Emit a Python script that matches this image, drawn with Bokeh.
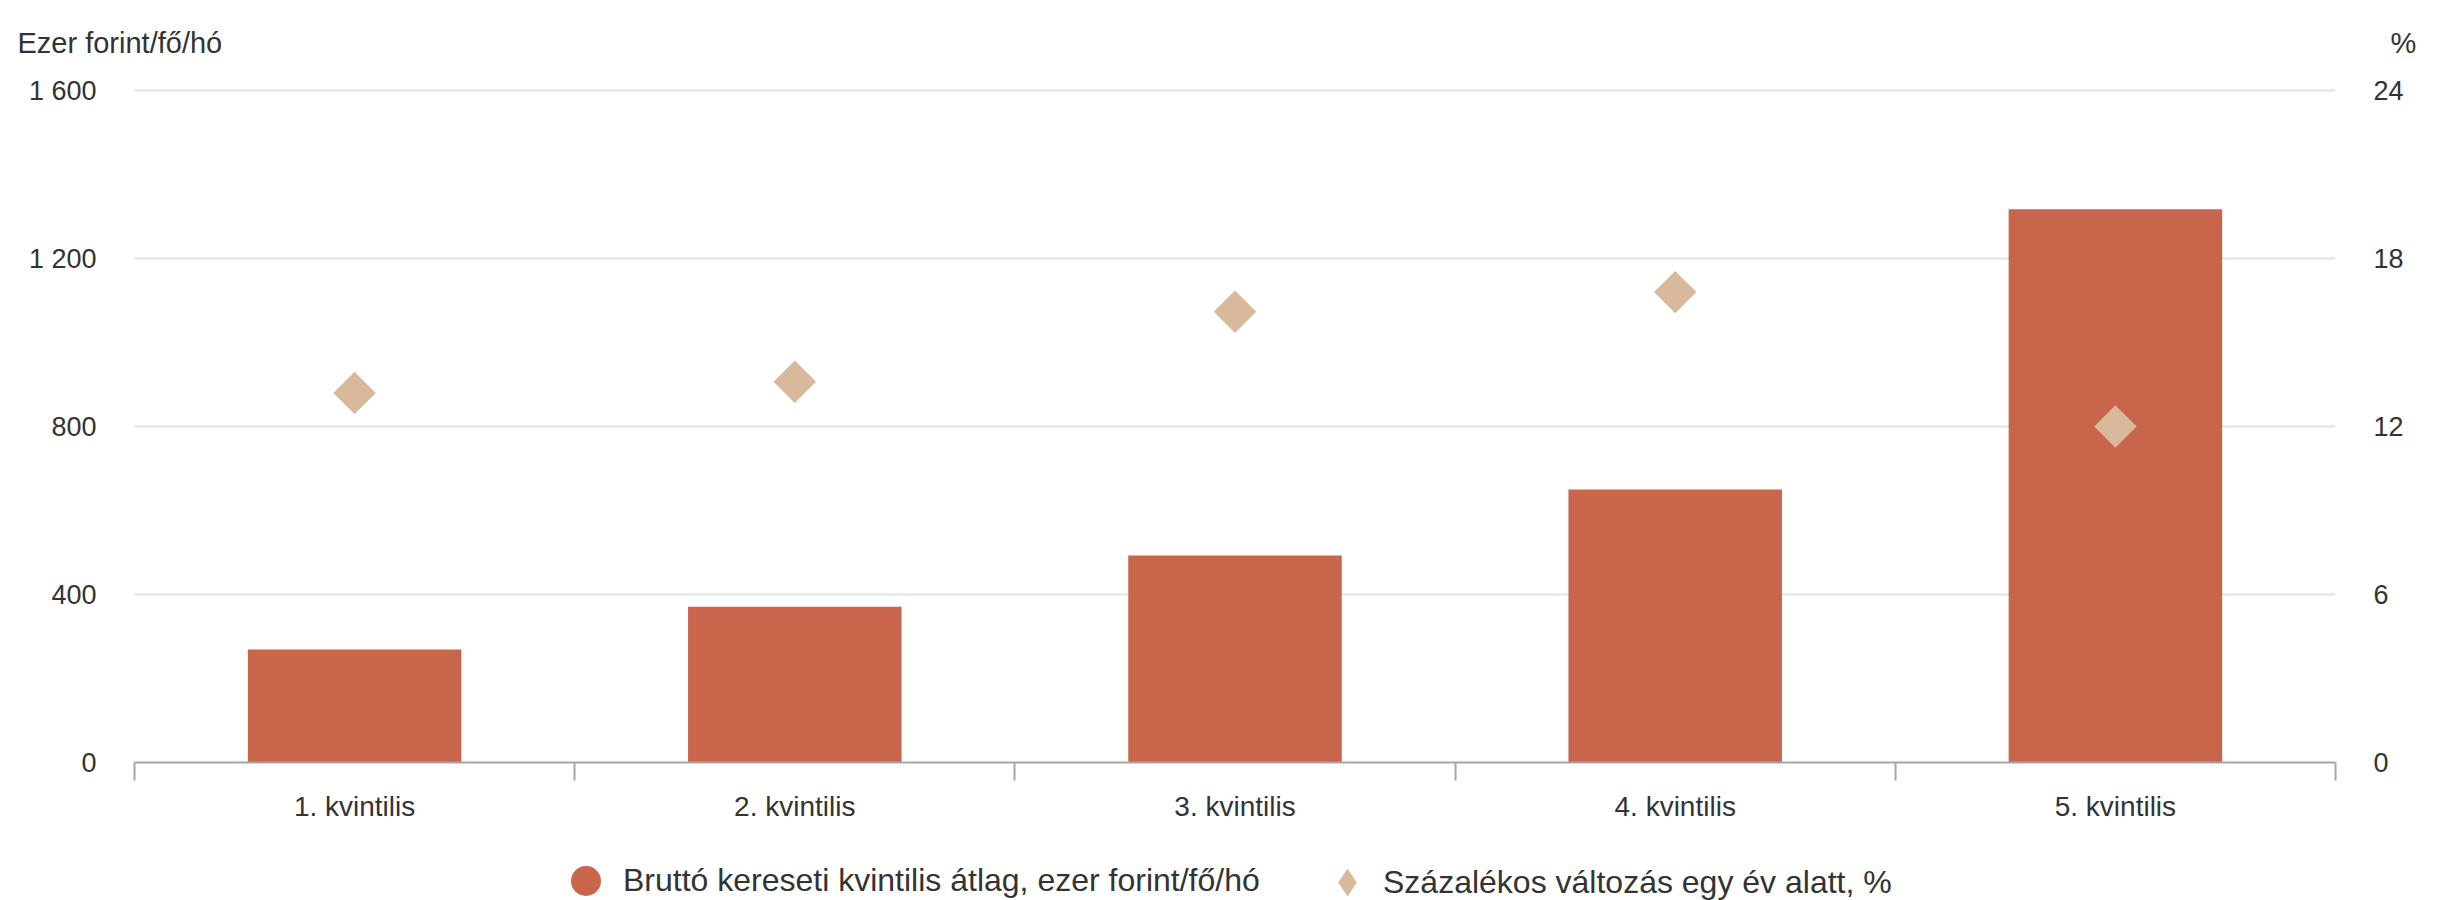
import math
from bokeh.plotting import figure
from bokeh.layouts import column
from bokeh.models import (ColumnDataSource, Range1d, LinearAxis, FixedTicker,
                          Legend, LegendItem, Label)
from bokeh.embed import file_html
from bokeh.resources import INLINE

# ---------------- data ----------------
categories = ["1. kvintilis", "2. kvintilis", "3. kvintilis", "4. kvintilis", "5. kvintilis"]
gross_avg = [269, 371, 493, 650, 1317]          # ezer forint/fő/hó
pct_change = [13.2, 13.6, 16.1, 16.8, 12.0]     # %
left_ticks = [0, 400, 800, 1200, 1600]
left_tick_labels = ["0", "400", "800", "1 200", "1 600"]
right_ticks = [0, 6, 12, 18, 24]
right_tick_labels = ["0", "6", "12", "18", "24"]
series_names = ["Bruttó kereseti kvintilis átlag, ezer forint/fő/hó",
                "Százalékos változás egy év alatt, %"]
left_title = "Ezer forint/fő/hó"
right_title = "%"

FONT = "Liberation Sans"
TXT = "#333333"
BAR = "#C8654A"
DIA = "#D9B99B"
AXIS = "#a6a6a6"
GRID = "#e1e1e1"
W = 2444


def strip(h):
    f = figure(width=W, height=h, output_backend="svg", toolbar_location=None,
               x_range=Range1d(0, 1), y_range=Range1d(0, 1), title=None,
               x_axis_location=None, y_axis_location=None,
               min_border=0, min_border_left=0, min_border_right=0,
               min_border_top=0, min_border_bottom=0)
    f.grid.visible = False
    f.outline_line_color = None
    f.background_fill_color = "white"
    f.border_fill_color = "white"
    return f


pad = 1.003  # tiny headroom so the top gridline is not clipped
xpos = [i + 0.5 for i in range(len(categories))]
src = ColumnDataSource(dict(x=xpos, cat=categories, val=gross_avg, pct=pct_change))

# ---------------- top strip: axis titles ----------------
top = strip(68)
top.add_layout(Label(x=17, y=26, x_units="screen", y_units="screen", text=left_title,
                     text_font=FONT, text_font_size="29px", text_color=TXT,
                     text_baseline="middle", text_align="left"))
top.add_layout(Label(x=2390, y=26, x_units="screen", y_units="screen", text=right_title,
                     text_font=FONT, text_font_size="29px", text_color=TXT,
                     text_baseline="middle", text_align="left"))

# ---------------- main chart ----------------
p = figure(width=W, height=772, output_backend="svg", toolbar_location=None,
           x_range=Range1d(0, len(categories)),
           y_range=Range1d(left_ticks[0], left_ticks[-1] * pad),
           min_border_left=134, min_border_right=109, min_border_top=20,
           min_border_bottom=78, title=None)
p.outline_line_color = None
p.background_fill_color = "white"
p.border_fill_color = "white"
p.extra_y_ranges = {"pct": Range1d(right_ticks[0], right_ticks[-1] * pad)}

p.vbar(x="x", top="val", width=0.485, source=src, fill_color=BAR, line_color=None)
p.scatter(x="x", y="pct", source=src, y_range_name="pct", marker="square",
          angle=math.pi / 4, size=30, fill_color=DIA, line_color=None)

xa = p.xaxis[0]
xa.ticker = FixedTicker(ticks=xpos, minor_ticks=list(range(len(categories) + 1)))
xa.major_label_overrides = {x: c for x, c in zip(xpos, categories)}
xa.major_tick_out = 0
xa.major_tick_in = 0
xa.minor_tick_out = 18
xa.minor_tick_in = 0
xa.minor_tick_line_color = AXIS
xa.minor_tick_line_width = 2
xa.axis_line_color = AXIS
xa.axis_line_width = 2
xa.major_label_standoff = 10
xa.major_label_text_font = FONT
xa.major_label_text_font_size = "28px"
xa.major_label_text_color = TXT

ya = p.yaxis[0]
ya.ticker = FixedTicker(ticks=left_ticks)
ya.major_label_overrides = {t: l for t, l in zip(left_ticks, left_tick_labels)}
ya.axis_line_color = None
ya.major_tick_out = 0
ya.major_tick_in = 0
ya.minor_tick_out = 0
ya.minor_tick_in = 0
ya.major_label_standoff = 38
ya.major_label_text_font = FONT
ya.major_label_text_font_size = "27px"
ya.major_label_text_color = TXT

ra = LinearAxis(y_range_name="pct", ticker=FixedTicker(ticks=right_ticks))
ra.major_label_overrides = {t: l for t, l in zip(right_ticks, right_tick_labels)}
ra.axis_line_color = None
ra.major_tick_out = 0
ra.major_tick_in = 0
ra.minor_tick_out = 0
ra.minor_tick_in = 0
ra.major_label_standoff = 38
ra.major_label_text_font = FONT
ra.major_label_text_font_size = "27px"
ra.major_label_text_color = TXT
p.add_layout(ra, "right")

p.xgrid.visible = False
p.ygrid.ticker = FixedTicker(ticks=left_ticks)
p.ygrid.grid_line_color = GRID
p.ygrid.grid_line_width = 2

# ---------------- legend strip ----------------
leg = strip(60)
# legend glyphs come from the same series (their points lie outside this strip's ranges)
r1 = leg.scatter(x="x", y="val", source=src, marker="circle", size=30,
                 fill_color=BAR, line_color=None)
r2 = leg.scatter(x="x", y="pct", source=src, marker="diamond", size=28,
                 fill_color=DIA, line_color=None)


def make_legend(item, loc, g, standoff):
    return Legend(items=[item], location=loc, glyph_width=g, glyph_height=g,
                  padding=0, margin=0, spacing=0, label_standoff=standoff,
                  label_text_font=FONT, label_text_font_size="32px",
                  label_text_color=TXT, background_fill_alpha=0,
                  border_line_color=None)


leg.add_layout(make_legend(LegendItem(label=series_names[0], renderers=[r1]), (414, -18), 75, 0))
leg.add_layout(make_legend(LegendItem(label=series_names[1], renderers=[r2]), (1178, -17), 70, 1))

layout = column(p, leg, spacing=0)
open("out.html", "w").write(file_html([top, layout], INLINE))
